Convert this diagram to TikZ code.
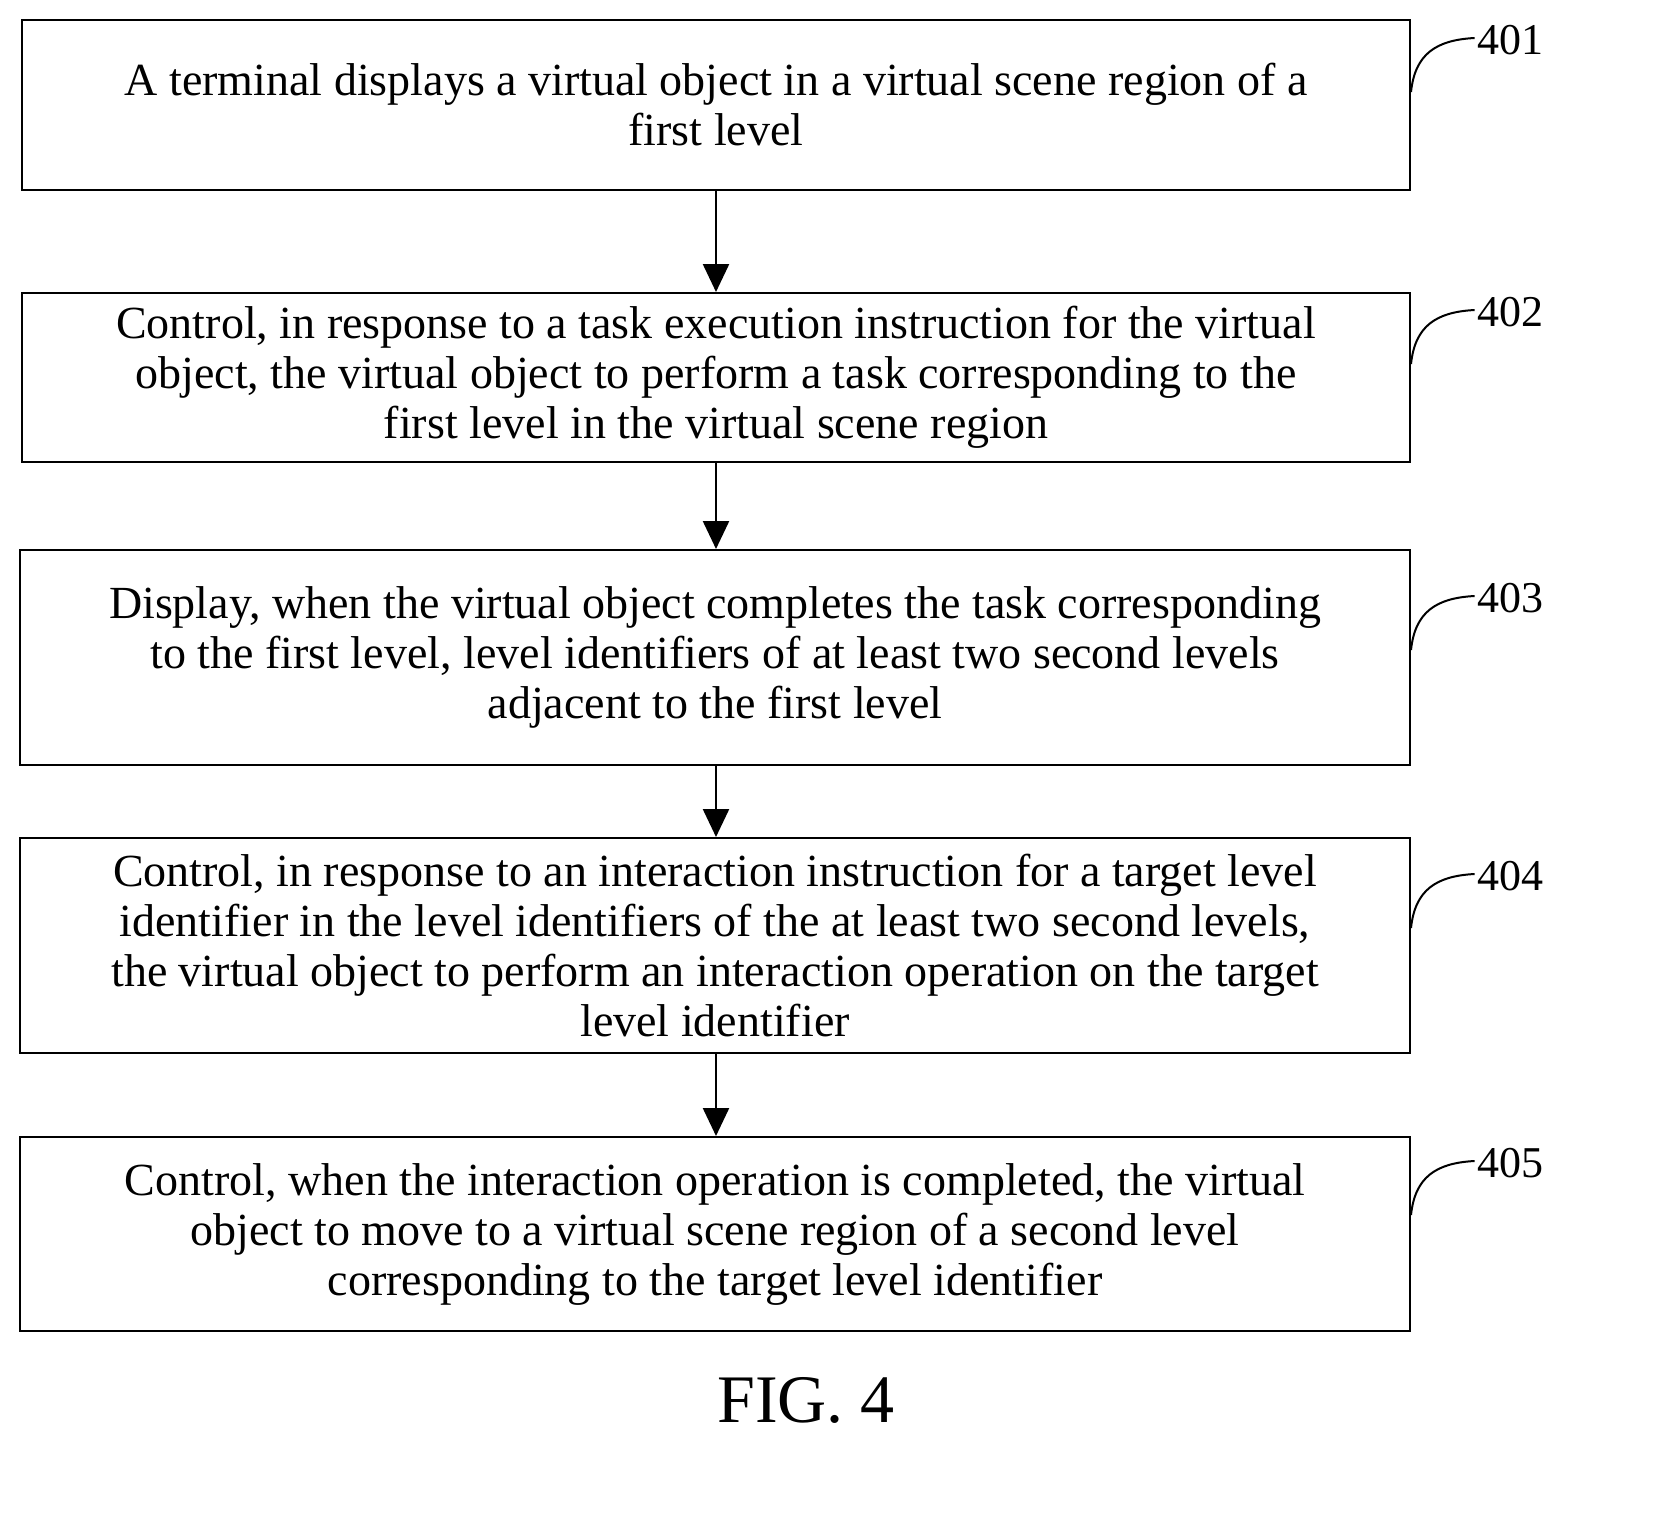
\documentclass[tikz,border=0pt]{standalone}
\usepackage{fontspec}
\setmainfont{Liberation Serif}
\usetikzlibrary{arrows.meta,calc}
\tikzset{
  stepbox/.style={draw,line width=1pt,inner sep=0pt,align=center,font=\fontsize{23}{25}\selectfont},
  flow/.style={-{Stealth[length=14pt,width=13pt,inset=0pt]},line width=1.2pt},
  num/.style={font=\fontsize{22}{25}\selectfont,inner sep=0pt},
  tag/.style={line width=1pt}
}
\begin{document}
\begin{tikzpicture}[x=0.5pt,y=-0.5pt]
\useasboundingbox (0,0) rectangle (1661,1527);

\node[stepbox,minimum width=694pt,minimum height=85pt] (b1) at (716,105)
  {A terminal displays a virtual object in a virtual scene region of a\\first level};
\node[stepbox,minimum width=694pt,minimum height=84.5pt] (b2) at (716,377.5)
  {Control, in response to a task execution instruction for the virtual\\object, the virtual object to perform a task corresponding to the\\first level in the virtual scene region};
\node[stepbox,minimum width=695pt,minimum height=107.5pt] (b3) at (715,657.5)
  {Display, when the virtual object completes the task corresponding\\to the first level, level identifiers of at least two second levels\\adjacent to the first level};
\node[stepbox,minimum width=695pt,minimum height=107.5pt] (b4) at (715,945.5)
  {Control, in response to an interaction instruction for a target level\\identifier in the level identifiers of the at least two second levels,\\the virtual object to perform an interaction operation on the target\\level identifier};
\node[stepbox,minimum width=695pt,minimum height=97pt] (b5) at (715,1234)
  {Control, when the interaction operation is completed, the virtual\\object to move to a virtual scene region of a second level\\corresponding to the target level identifier};

\draw[flow] (b1.south -| 716,0) -- (b2.north -| 716,0);
\draw[flow] (b2.south -| 716,0) -- (b3.north -| 716,0);
\draw[flow] (b3.south -| 716,0) -- (b4.north -| 716,0);
\draw[flow] (b4.south -| 716,0) -- (b5.north -| 716,0);

% step numbers
\foreach \n/\y in {1/40,2/312,3/598,4/876,5/1163}{
  \node[num] (l\n) at (1510,\y) {40\n};
  \coordinate (s\n) at (1411,\y+52);
  \draw[tag] (s\n) .. controls ($(s\n)+(4,-38)$) and ($(s\n)+(25,-52)$) .. ($(l\n.west)+(-2,-2)$);
}

\node[font=\fontsize{34}{38}\selectfont,inner sep=0pt] (fig) at (806,1400) {FIG. 4};
\end{tikzpicture}
\end{document}
